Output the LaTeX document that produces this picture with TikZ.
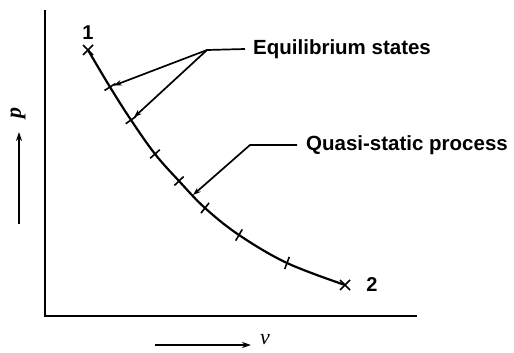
\documentclass[tikz,border=0pt]{standalone}
\usepackage{fontspec}
\setmainfont{Liberation Sans}
\newfontfamily\serifit{Liberation Serif}
\usetikzlibrary{arrows.meta,calc}
\begin{document}
\begin{tikzpicture}[x=1pt,y=-1pt,
  axis/.style={line width=2.3pt},
  curve/.style={line width=2.2pt},
  tickmark/.style={line width=1.6pt},
  leader/.style={line width=1.7pt},
  pointer/.style={leader,-{Stealth[length=8pt,width=5.5pt]}},
  lbl/.style={font=\fontsize{20.5}{22}\selectfont\bfseries, inner ysep=0pt},
  endlbl/.style={font=\fontsize{20}{22}\selectfont\bfseries, inner sep=0pt}]
\useasboundingbox (0,0) rectangle (514,353);
% axes
\coordinate (otop) at (45,10);
\coordinate (orig) at (45,316);
\coordinate (xend) at (417,316);
\draw[axis] (otop) -- (orig) -- (xend);
% axis labels
\coordinate (pa0) at (19,224);
\coordinate (pa1) at (19,132);
\draw[leader,-{Stealth[length=9pt,width=6pt]}] (pa0) -- (pa1);
\node[rotate=90,font=\fontsize{22}{24}\selectfont\serifit\bfseries\itshape] (plbl) at (18,113) {p};
\coordinate (va0) at (155,345);
\coordinate (va1) at (251,345);
\draw[leader,-{Stealth[length=9pt,width=6pt]}] (va0) -- (va1);
\node[font=\fontsize{22}{24}\selectfont\serifit\itshape] (vlbl) at (265,340) {v};
% curve points
\coordinate (c0) at (88,50);
\coordinate (c1) at (110,87);
\coordinate (c2) at (131,120);
\coordinate (c3) at (155,154);
\coordinate (c4) at (179,181);
\coordinate (c5) at (205,208);
\coordinate (c6) at (239,235);
\coordinate (c7) at (287,263);
\coordinate (c8) at (345,285);
\draw[curve] plot[smooth,tension=0.6] coordinates {(88,50) (110,87) (131,120) (155,154) (179,181) (205,208) (239,235) (287,263) (345,285)};
% ticks
\foreach \i/\j in {1/2,2/3,3/4,4/5,5/6,6/7,7/8}{
  \draw[tickmark] ($(c\i)!6.5pt!90:(c\j)$) -- ($(c\i)!6.5pt!-90:(c\j)$);
}
% end crosses
\draw[tickmark] ($(c0)+(-5,-5)$) -- ($(c0)+(5,5)$) ($(c0)+(-5,5)$) -- ($(c0)+(5,-5)$);
\draw[tickmark] ($(c8)+(-5,-5)$) -- ($(c8)+(5,5)$) ($(c8)+(-5,5)$) -- ($(c8)+(5,-5)$);
\node[endlbl] (one) at (88,33) {1};
\node[endlbl] (two) at (372,285) {2};
% labels
\node[lbl,anchor=west,inner xsep=8pt] (eq) at (245,49) {Equilibrium states};
\node[lbl,anchor=west,inner xsep=9pt] (qs) at (297,145) {Quasi-static process};
\coordinate (eqj) at (207,50);
\coordinate (qsj) at (250,145);
\coordinate (qtip) at (193,195);
\draw[leader] (eq.west) -- (eqj);
\draw[pointer,shorten >=4pt] (eqj) -- (c1);
\draw[pointer,shorten >=4pt] (eqj) -- (c2);
\draw[pointer] (qs.west) -- (qsj) -- (qtip);
\end{tikzpicture}
\end{document}
